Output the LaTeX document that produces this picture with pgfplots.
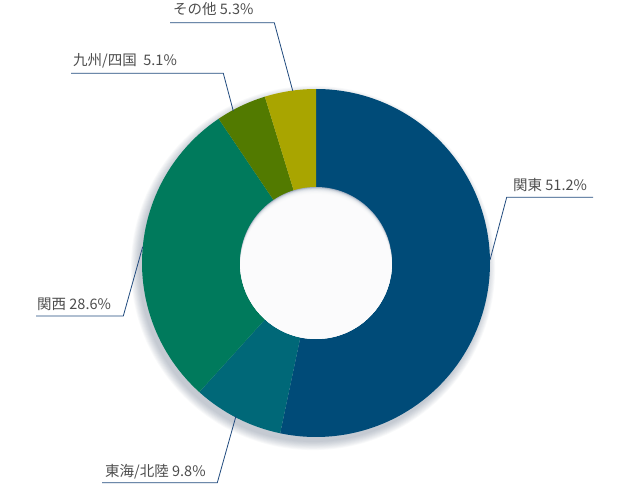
\documentclass[border=0pt]{standalone}
\usepackage{fontspec}
\usepackage{pgfplots}
\usepackage{pgfplotstable}
\pgfplotsset{compat=1.18}
\setmainfont{Noto Sans CJK JP}

\definecolor{slice0}{RGB}{0,75,120}   % Kanto
\definecolor{slice1}{RGB}{0,104,120}  % Tokai/Hokuriku
\definecolor{slice2}{RGB}{0,122,92}   % Kansai
\definecolor{slice3}{RGB}{82,122,0}   % Kyushu/Shikoku
\definecolor{slice4}{RGB}{169,165,0}  % other
\definecolor{leadc}{RGB}{31,73,125}
\definecolor{textc}{RGB}{77,77,77}
\definecolor{shadowc}{RGB}{40,60,90}
\definecolor{holeshade}{RGB}{160,172,190}

% share of the ring (percent), clockwise from 12 o'clock
\pgfplotstableread{
share
53.3
8.4
28.85
4.7
4.75
}\shares

\begin{document}
\begin{tikzpicture}[
  lead/.style={leadc, line width=0.8pt},
  lab/.style={anchor=base west, inner sep=0pt, text=textc,
    font=\fontsize{14.5}{17}\selectfont},
]
\begin{axis}[
  scale only axis, width=630pt, height=500pt,
  xmin=0, xmax=630, ymin=0, ymax=500, y dir=reverse,
  enlargelimits=false, hide axis, clip=false,
]
\addplot[draw=none] coordinates {(0,0) (630,500)};

\pgfplotsextra{
  % soft shadow under the ring
  \foreach \k in {0,...,9} {
    \fill[shadowc, opacity=0.03] (313,268) circle[radius=174pt+\k*0.9pt];
  }
  % wedges
  \def\start{90}
  \pgfplotsforeachungrouped \i in {0,...,4}{%
    \pgfplotstablegetelem{\i}{share}\of\shares
    \pgfmathsetmacro\stop{\start-3.6*\pgfplotsretval}
    \fill[slice\i] (316,263) -- ++(\start:174pt)
      arc[start angle=\start, end angle=\stop, radius=174pt] -- cycle;
    \global\let\start\stop
  }
  % hole with inner shadow at the top
  \begin{scope}
    \clip (316,263) circle[radius=76pt];
    \fill[holeshade] (316,263) circle[radius=77pt];
    \foreach \k in {1,...,10} {
      \fill[white, opacity=0.3] (316,{263+\k*0.7}) circle[radius=76pt];
    }
  \end{scope}
  % leader lines
  \draw[lead] (490,260) -- (506.7,197.3) -- (593,197.3);
  \draw[lead] (292.7,90.7) -- (274.3,22.7) -- (170,22.7);
  \draw[lead] (233.3,111) -- (223.3,73.3) -- (71,73.3);
  \draw[lead] (142.7,246.7) -- (123.3,316) -- (36,316);
  \draw[lead] (236,416) -- (217.3,482.7) -- (102,482.7);
  % labels
  \node[lab] at (513,191) {関東 51.2\%};
  \node[lab] at (173,15) {その他 5.3\%};
  \node[lab] at (73,66) {九州/四国\hspace{0.45em}5.1\%};
  \node[lab] at (37,309) {関西 28.6\%};
  \node[lab] at (105,476) {東海/北陸 9.8\%};
}
\end{axis}
\end{tikzpicture}
\end{document}
